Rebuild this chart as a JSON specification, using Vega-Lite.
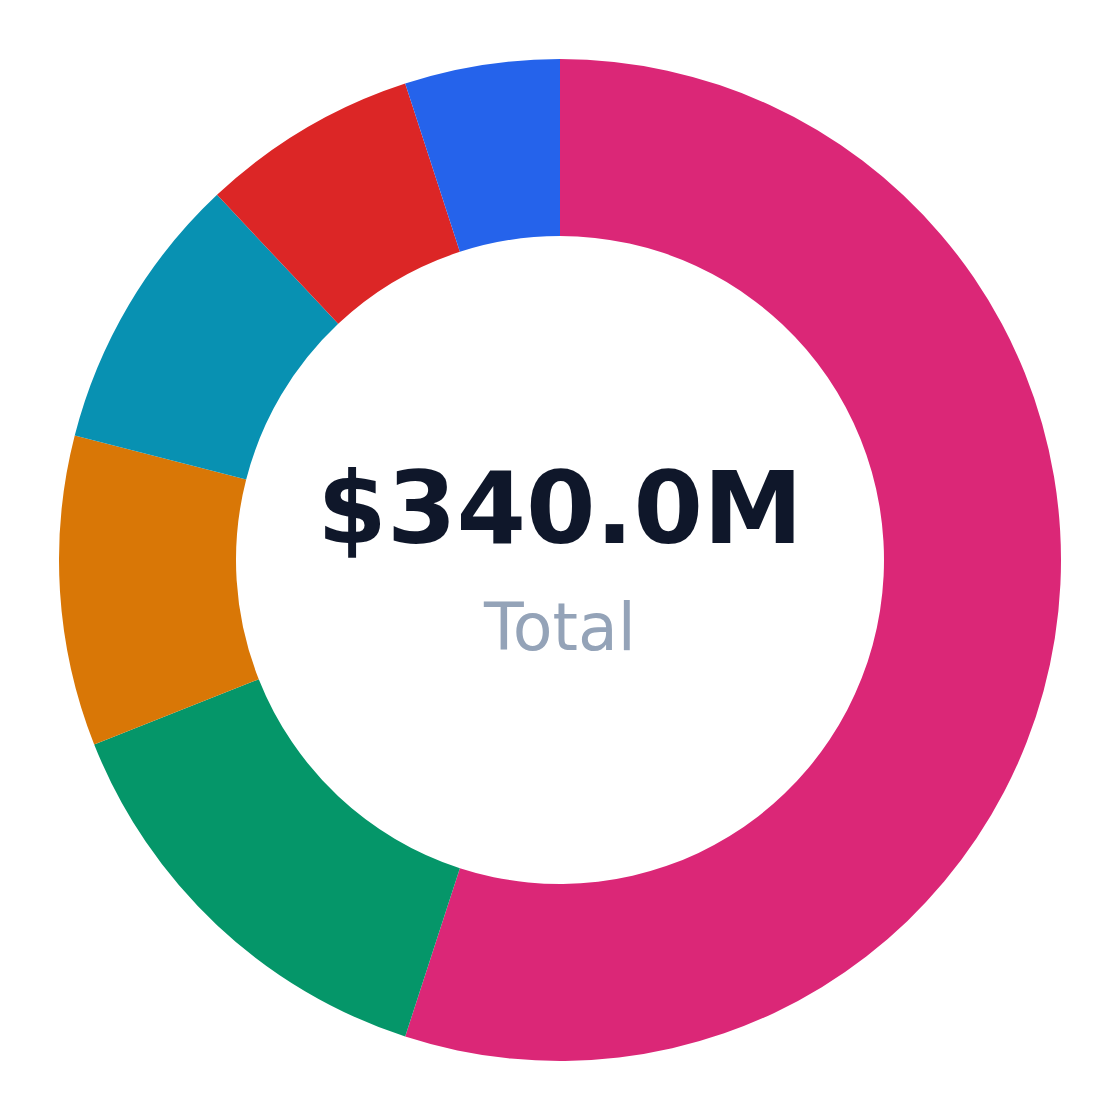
{
  "$schema": "https://vega.github.io/schema/vega-lite/v6.json",
  "width": 1120,
  "height": 1120,
  "autosize": {"type": "fit", "contains": "padding"},
  "padding": 0,
  "background": "#FFFFFF",
  "view": {"stroke": null},
  "datasets": {
    "segments": [
      {"segment": "A", "value": 187.0, "rank": 1},
      {"segment": "B", "value": 47.6, "rank": 2},
      {"segment": "C", "value": 34.0, "rank": 3},
      {"segment": "D", "value": 30.6, "rank": 4},
      {"segment": "E", "value": 23.8, "rank": 5},
      {"segment": "F", "value": 17.0, "rank": 6}
    ],
    "center": [
      {"line": "value", "label": "$340.0M"},
      {"line": "caption", "label": "Total"}
    ]
  },
  "layer": [
    {
      "data": {"name": "segments"},
      "mark": {"type": "arc", "outerRadius": 501, "innerRadius": 324},
      "encoding": {
        "theta": {"field": "value", "type": "quantitative", "stack": true},
        "order": {"field": "rank", "type": "quantitative"},
        "color": {
          "field": "segment",
          "type": "nominal",
          "scale": {
            "domain": ["A", "B", "C", "D", "E", "F"],
            "range": ["#DB2777", "#059669", "#D97706", "#0891B2", "#DC2626", "#2563EB"]
          },
          "legend": null
        }
      }
    },
    {
      "data": {"name": "center"},
      "transform": [{"filter": "datum.line === 'value'"}],
      "mark": {"type": "text", "font": "DejaVu Sans", "fontWeight": "bold", "fontSize": 100, "color": "#0F172A", "align": "center", "baseline": "alphabetic", "dy": -17},
      "encoding": {"text": {"field": "label", "type": "nominal"}}
    },
    {
      "data": {"name": "center"},
      "transform": [{"filter": "datum.line === 'caption'"}],
      "mark": {"type": "text", "font": "DejaVu Sans", "fontSize": 65, "color": "#94A3B8", "align": "center", "baseline": "alphabetic", "dy": 90},
      "encoding": {"text": {"field": "label", "type": "nominal"}}
    }
  ]
}
